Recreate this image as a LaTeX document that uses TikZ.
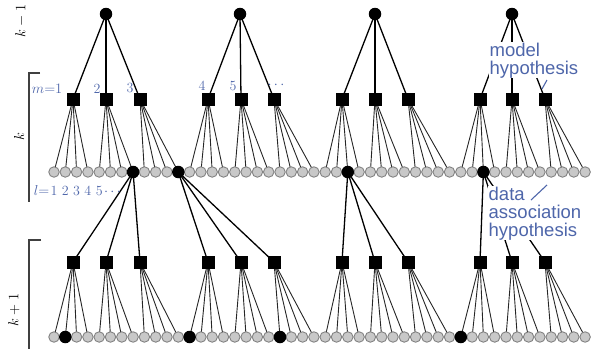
\documentclass[tikz,border=0pt]{standalone}
\usepackage{fontspec}
\newfontfamily\annfont{Liberation Sans}
\usetikzlibrary{backgrounds,calc}
\definecolor{labblue}{RGB}{78,102,170}
\definecolor{obsfill}{RGB}{200,200,200}
\definecolor{obsdraw}{RGB}{130,130,130}
\tikzset{
  topnode/.style={circle, fill=black, minimum size=12.5pt, inner sep=0pt},
  sqnode/.style={rectangle, fill=black, minimum size=13pt, inner sep=0pt},
  obsnode/.style={circle, draw=obsdraw, fill=obsfill, line width=0.9pt, minimum size=10.5pt, inner sep=0pt},
  hitnode/.style={circle, fill=black, minimum size=12.5pt, inner sep=0pt},
  edge/.style={line width=1.3pt, black},
  fan/.style={line width=0.9pt, black!85},
  lab/.style={text=labblue, font=\fontsize{14}{14}\selectfont, inner sep=0.5pt},
  ann/.style={text=labblue, font=\annfont\fontsize{18.5}{18}\selectfont, align=left, inner sep=0.5pt, fill=white},
  pointer/.style={draw=labblue, line width=1.1pt},
  lvl/.style={font=\fontsize{15}{15}\selectfont, rotate=90, inner sep=0pt},
  bracket/.style={line width=1.2pt, black!75}
}
\begin{document}
\begin{tikzpicture}[x=1pt,y=-1pt]
\useasboundingbox (0,0) rectangle (598,349);

% top level (k-1) hypotheses
\foreach \x [count=\i from 0] in {106,240,375,512} {
  \node[topnode] (t\i) at (\x,14) {};
}
% model hypothesis squares
\foreach \x [count=\i from 0] in {73,106,140,208,241,274,342,375,408,480,512,545} {
  \node[sqnode] (a\i) at (\x,99) {};
  \node[sqnode] (b\i) at (\x,262) {};
}
% measurement circles
\foreach \i in {0,...,47} {
  \node[obsnode] (c\i) at ({54+11.3*\i},172) {};
  \node[obsnode] (d\i) at ({54+11.3*\i},337) {};
}
% chosen (black) measurements
\foreach \i in {7,11,26,38} {
  \node[hitnode] (ch\i) at (c\i) {};
}
\foreach \i in {1,12,20,36} {
  \node[hitnode] (dh\i) at (d\i) {};
}

\begin{scope}[on background layer]
  % top to squares
  \foreach \g in {0,1,2,3} {
    \foreach \j in {0,1,2} {
      \pgfmathtruncatemacro{\s}{3*\g+\j}
      \draw[edge] (t\g.center) -- (a\s.center);
    }
  }
  % fans
  \foreach \s in {0,...,11} {
    \foreach \j in {0,1,2,3} {
      \pgfmathtruncatemacro{\c}{4*\s+\j}
      \draw[fan] (a\s.center) -- (c\c.center);
      \draw[fan] (b\s.center) -- (d\c.center);
    }
  }
  % data association to next level
  \foreach \h/\g in {7/0,11/1,26/2,38/3} {
    \foreach \j in {0,1,2} {
      \pgfmathtruncatemacro{\s}{3*\g+\j}
      \draw[edge] (c\h.center) -- (b\s.center);
    }
  }
\end{scope}

% level labels and brackets
\node[lvl] (lk1) at (21,21) {$k-1$};
\node[lvl] (lk) at (19,137) {$k$};
\node[lvl] (lkp) at (14,310) {$k+1$};
\coordinate (bk1) at (40,73);
\coordinate (bk2) at (29,73);
\coordinate (bk3) at (29,202);
\draw[bracket] (bk1) -- (bk2) -- (bk3);
\coordinate (bp1) at (41,240);
\coordinate (bp2) at (29,240);
\coordinate (bp3) at (29,349);
\draw[bracket] (bp1) -- (bp2) -- (bp3);

% m labels
\node[lab, anchor=base east] (m1) at (63,93) {$m{=}1$};
\node[lab, anchor=base] (m2) at (97,93) {2};
\node[lab, anchor=base] (m3) at (130,92) {3};
\node[lab, anchor=base] (m4) at (202,90) {4};
\node[lab, anchor=base] (m5) at (233,90) {5};
\node[lab, anchor=base] (m6) at (276,88) {$\cdots$};

% l labels
\node[lab, anchor=base east] (l0) at (50,195) {$l{=}$};
\foreach \t [count=\i from 0] in {1,2,3,4,5} {
  \node[lab, anchor=base] (l\t) at ({54+11.3*\i},195) {\t};
}
\node[lab, anchor=base] (ld) at ({54+11.3*5+2},195) {$\cdots$};

% annotations
\node[ann, anchor=north west] (mh) at (489,42) {model\\hypothesis};
\coordinate (mp1) at (547,80);
\coordinate (mp2) at (542,89);
\draw[pointer] (mp1) -- (mp2);
\node[ann, anchor=north west] (dh) at (488,186) {data\\association\\hypothesis};
\coordinate (dp1) at (531,200);
\coordinate (dp2) at (547,185);
\draw[pointer] (dp1) -- (dp2);
\end{tikzpicture}
\end{document}
